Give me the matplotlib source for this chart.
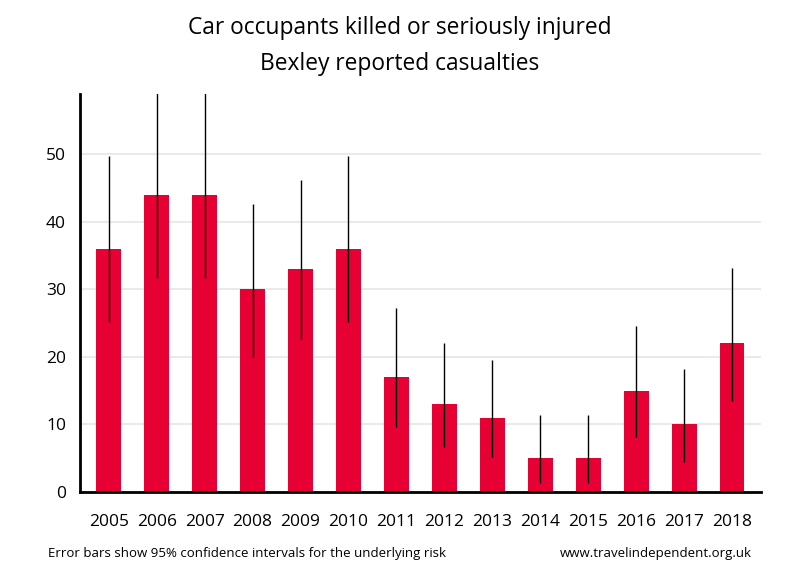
import matplotlib
matplotlib.use("Agg")
import matplotlib.pyplot as plt
import numpy as np

plt.rcParams['font.family'] = ['Open Sans', 'DejaVu Sans']

years = ["2005", "2006", "2007", "2008", "2009", "2010", "2011",
         "2012", "2013", "2014", "2015", "2016", "2017", "2018"]
casualties = [36, 44, 44, 30, 33, 36, 17, 13, 11, 5, 5, 15, 10, 22]
ci_low = [25.1, 31.7, 31.7, 20.0, 22.6, 25.1, 9.6, 6.7, 5.2, 1.3, 1.3, 8.1, 4.4, 13.5]
ci_high = [49.7, 59.5, 59.5, 42.6, 46.2, 49.7, 27.2, 22.0, 19.5, 11.4, 11.4, 24.6, 18.2, 33.1]

RED = "#e60033"

fig = plt.figure(figsize=(8, 5.8), dpi=100)
ax = fig.add_axes([0.1, 0.152, 0.851, 0.686])

x = np.arange(len(years))
ax.bar(x, casualties, width=0.52, color=RED, zorder=2)
ax.vlines(x, ci_low, ci_high, color="black", linewidth=1, zorder=3)

ax.set_xlim(-0.6, len(years) - 0.4)
ax.set_ylim(0, 58.9)
ax.set_yticks([0, 10, 20, 30, 40, 50])
ax.set_xticks(x)
ax.set_xticklabels(years)
ax.tick_params(axis="both", length=0, labelsize=12.5, colors="black")
ax.tick_params(axis="x", pad=16)
ax.tick_params(axis="y", pad=10)
ax.grid(axis="y", color="#e6e6e6", linewidth=1.2, zorder=0)
ax.set_axisbelow(True)

for side in ["top", "right"]:
    ax.spines[side].set_visible(False)
for side in ["left", "bottom"]:
    ax.spines[side].set_linewidth(2)
    ax.spines[side].set_color("black")

fig.text(0.5, 0.921, "Car occupants killed or seriously injured\nBexley reported casualties",
         ha="center", va="center", fontsize=16.4, linespacing=1.7)
fig.text(0.06, 0.045, "Error bars show 95% confidence intervals for the underlying risk",
         ha="left", va="center", fontsize=9.5)
fig.text(0.94, 0.045, "www.travelindependent.org.uk",
         ha="right", va="center", fontsize=9.5)

fig.savefig("out.png", dpi=100)
